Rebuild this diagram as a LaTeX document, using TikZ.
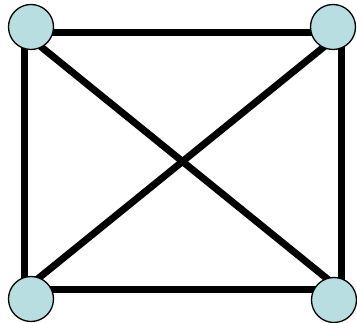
\documentclass[tikz,border=0pt]{standalone}
\usepackage{xcolor}
\usepackage{tikz}
\definecolor{vertfill}{RGB}{185,222,225}

\begin{document}
\begin{tikzpicture}[x=1pt,y=-1pt,
  edge/.style={line width=7pt,black},
  vertex/.style={circle,fill=vertfill,draw=black,line width=1.3pt,minimum size=45pt,inner sep=0pt}]
  \useasboundingbox (0,0) rectangle (357,323);
  \coordinate (c1) at (24,33);
  \coordinate (c2) at (341,33);
  \coordinate (c3) at (341,290);
  \coordinate (c4) at (24,290);
  \draw[edge] (c1) -- (c2);
  \draw[edge] (c2) -- (c3);
  \draw[edge] (c3) -- (c4);
  \draw[edge] (c4) -- (c1);
  \draw[edge] (c1) -- (c3);
  \draw[edge] (c2) -- (c4);
  \node[vertex] (1) at (31,27) {};
  \node[vertex] (2) at (333,27) {};
  \node[vertex] (3) at (334,300) {};
  \node[vertex] (4) at (31,299) {};
\end{tikzpicture}
\end{document}
